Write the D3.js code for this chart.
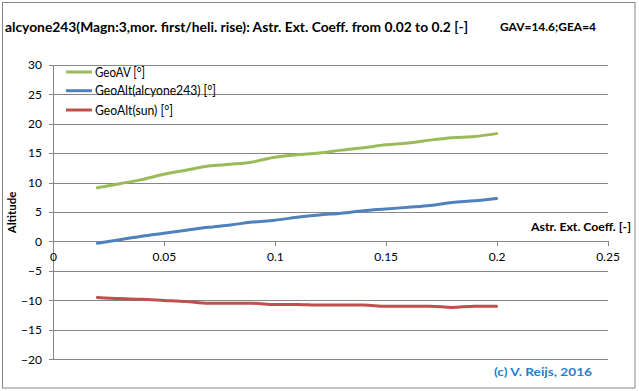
<!DOCTYPE html>
<html><head><meta charset="utf-8">
<script src="https://cdn.jsdelivr.net/npm/d3@7"></script>
<style>
html,body{margin:0;padding:0;background:#fff;}
svg{display:block;font-family:Lato, "Open Sans", sans-serif;}
</style></head>
<body>
<svg id="chart" width="639" height="391"></svg>
<script>
const xValues = [0.02,0.03,0.04,0.05,0.06,0.07,0.08,0.09,0.10,0.11,0.12,0.13,0.14,0.15,0.16,0.17,0.18,0.19,0.20];
const geoAV   = [9.1,9.8,10.5,11.4,12.1,12.8,13.1,13.5,14.3,14.7,15.0,15.5,15.9,16.4,16.7,17.2,17.6,17.8,18.3];
const geoAltStar = [-0.3,0.3,0.9,1.4,1.9,2.4,2.8,3.3,3.6,4.1,4.5,4.8,5.2,5.5,5.8,6.1,6.6,6.9,7.3];
const geoAltSun  = [-9.5,-9.7,-9.8,-10.0,-10.2,-10.5,-10.5,-10.5,-10.7,-10.7,-10.8,-10.8,-10.8,-11.0,-11.0,-11.0,-11.2,-11.0,-11.0];
const seriesNames = ["GeoAV [°]","GeoAlt(alcyone243) [°]","GeoAlt(sun) [°]"];
const seriesColors = ["#9BBB59","#4F81BD","#C0504D"];
const xTicks = [0,0.05,0.1,0.15,0.2,0.25];
const xTickLabels = ["0","0.05","0.1","0.15","0.2","0.25"];
const yTicks = [-20,-15,-10,-5,0,5,10,15,20,25,30];
const titleText = "alcyone243(Magn:3,mor. first/heli. rise): Astr. Ext. Coeff. from 0.02 to 0.2 [-]";
const subText = "GAV=14.6;GEA=4";
const xTitle = "Astr. Ext. Coeff. [-]";
const yTitle = "Altitude";
const credit = "(c) V. Reijs, 2016";

(function(){
const svg = d3.select("#chart");
const W = 639, H = 391;
const pLeft = 53, pRight = 607.5, pTop = 64.7, pBottom = 359.3;
const gridColor = "#868686";

svg.append("rect").attr("x",0).attr("y",0).attr("width",W).attr("height",H).attr("fill","#fff");
svg.append("rect").attr("x",2.5).attr("y",2.5).attr("width",632.5).attr("height",385.5)
  .attr("fill","none").attr("stroke",gridColor).attr("stroke-width",1);

const x = d3.scaleLinear().domain([0,0.25]).range([pLeft,pRight]);
const y = d3.scaleLinear().domain([-20,30]).range([pBottom,pTop]);

function fitText(sel, width){
  sel.attr("textLength", width).attr("lengthAdjust","spacingAndGlyphs");
}

// Y axis with gridlines
const yAxis = d3.axisLeft(y).tickValues(yTicks).tickSizeInner(-(pRight-49)).tickSizeOuter(0).tickPadding(7).tickFormat(d3.format("d"));
const gy = svg.append("g").attr("transform","translate(49,0)").call(yAxis);
gy.select(".domain").remove();
gy.selectAll(".tick line").attr("stroke",gridColor).attr("stroke-width",1).attr("shape-rendering","crispEdges");
gy.selectAll(".tick text").attr("font-size",12).attr("fill","#000").attr("font-family","Lato, sans-serif");

// vertical axis line
svg.append("line").attr("x1",pLeft).attr("x2",pLeft).attr("y1",pTop).attr("y2",pBottom)
  .attr("stroke",gridColor).attr("stroke-width",1).attr("shape-rendering","crispEdges");

// X axis at y=0
const xAxis = d3.axisBottom(x).tickValues(xTicks).tickSizeInner(5).tickSizeOuter(0).tickPadding(6)
  .tickFormat((d,i)=>xTickLabels[i]);
const gx = svg.append("g").attr("transform",`translate(0,${y(0)})`).call(xAxis);
gx.select(".domain").remove();
gx.selectAll(".tick line").attr("stroke",gridColor).attr("stroke-width",1).attr("shape-rendering","crispEdges");
gx.selectAll(".tick text").attr("font-size",12).attr("fill","#000").attr("font-family","Lato, sans-serif");

// Series
const allSeries = [geoAV, geoAltStar, geoAltSun];
const line = d3.line().x((d,i)=>x(xValues[i])).y(d=>y(d)).curve(d3.curveMonotoneX);
allSeries.forEach((s,k)=>{
  svg.append("path").datum(s).attr("d",line).attr("fill","none")
    .attr("stroke",seriesColors[k]).attr("stroke-width",3).attr("stroke-linecap","round").attr("stroke-linejoin","round");
});

// Legend
const legY = [72, 90.7, 110];
const legW = [50, 121, 78];
seriesNames.forEach((n,k)=>{
  svg.append("line").attr("x1",66).attr("x2",92).attr("y1",legY[k]).attr("y2",legY[k])
    .attr("stroke",seriesColors[k]).attr("stroke-width",3);
  const t = svg.append("text").attr("x",95).attr("y",legY[k]+4.5).attr("font-size",12.5).attr("fill","#000").text(n);
  fitText(t, legW[k]);
});

// Title
const tt = svg.append("text").attr("x",5).attr("y",31.5).attr("font-size",13.5).attr("font-weight","bold").attr("fill","#000").text(titleText);
fitText(tt, 463);
const st = svg.append("text").attr("x",500).attr("y",31).attr("font-size",11.5).attr("font-weight","bold").attr("fill","#000").text(subText);
fitText(st, 96);

// Axis titles
const xt = svg.append("text").attr("x",531).attr("y",231).attr("font-size",11.5).attr("font-weight","bold").attr("fill","#000").text(xTitle);
fitText(xt, 100);
svg.append("text").attr("transform","translate(16,212.5) rotate(-90)").attr("text-anchor","middle")
  .attr("font-size",11.5).attr("font-weight","bold").attr("fill","#000").text(yTitle);

// Credit
const ct = svg.append("text").attr("x",494).attr("y",376).attr("font-size",12).attr("font-weight","bold").attr("fill","#1F7FD0").text(credit);
fitText(ct, 98);
})();
</script>
</body></html>
